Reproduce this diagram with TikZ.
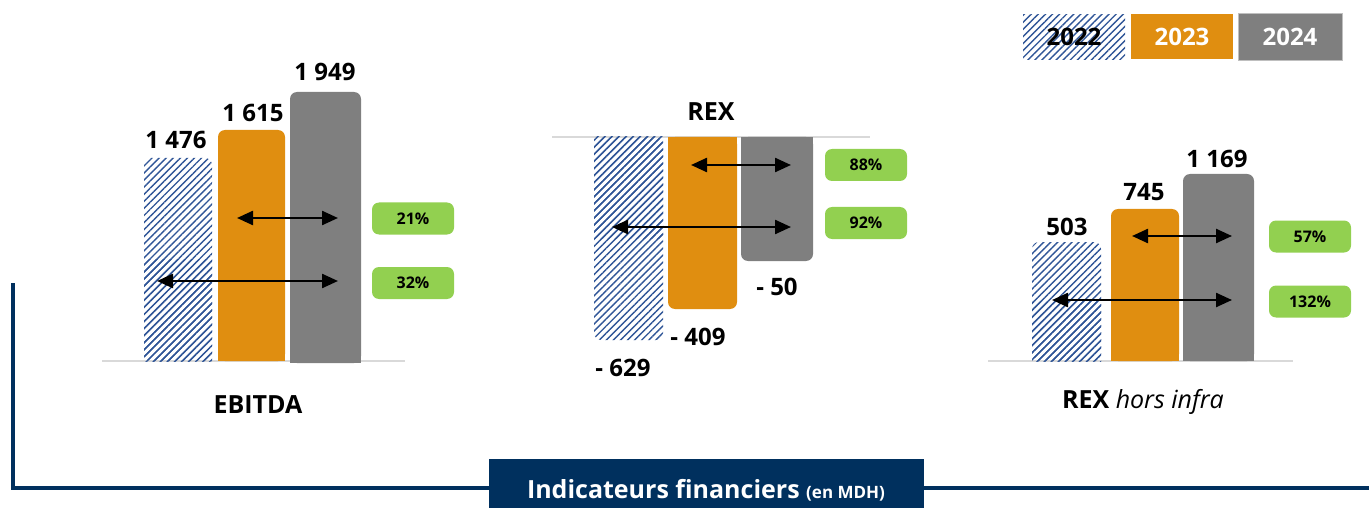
\documentclass[tikz,border=0pt]{standalone}
\usepackage{fontspec}
\setmainfont{Open Sans}
\usetikzlibrary{arrows.meta,patterns.meta}
\definecolor{navy}{RGB}{0,48,94}
\definecolor{orng}{RGB}{224,142,16}
\definecolor{gbar}{RGB}{127,127,127}
\definecolor{grn}{RGB}{146,208,80}
\definecolor{hatchc}{RGB}{47,85,151}
\definecolor{basec}{RGB}{217,217,217}
\newcommand\mybar[5]{%
  \path[#1,rounded corners=7pt] (#2,#4) rectangle (#3,#5);
  \path[#1] (#2,#4) rectangle (#3,{(#4+#5)/2});}
\tikzset{
  hbar/.style={pattern={Lines[angle=45,distance=5pt,line width=1.4pt]},pattern color=hatchc},
  obar/.style={fill=orng},
  gbarst/.style={fill=gbar},
  baseln/.style={draw=basec,line width=1.5pt},
  val/.style={font=\bfseries\fontsize{24}{26}\selectfont,inner sep=0pt},
  pct/.style={fill=grn,rounded corners=7pt,minimum width=82pt,minimum height=32pt,
     font=\fontsize{16}{18}\selectfont\bfseries,inner sep=0pt},
  dbl/.style={{Triangle[length=16pt,width=14pt]}-{Triangle[length=16pt,width=14pt]},line width=2.4pt,black},
  ttl/.style={font=\bfseries\fontsize{25}{28}\selectfont,inner sep=0pt},
  frame/.style={draw=navy,line width=4pt},
  leg/.style={minimum width=102pt,minimum height=45pt,inner sep=0pt,font=\bfseries\fontsize{24}{26}\selectfont}
}
\begin{document}
\begin{tikzpicture}[x=1pt,y=-1pt]
\useasboundingbox (0,0) rectangle (1369,508);
% frame
\coordinate (ft) at (13,283);
\coordinate (fc) at (13,488);
\coordinate (fr) at (1375,488);
\draw[frame] (ft) -- (fc) -- (fr);
\node[fill=navy,text=white,minimum width=435pt,minimum height=62pt,inner sep=0pt,anchor=north,
  font=\bfseries\fontsize{25}{28}\selectfont] (title) at (706,459)
  {Indicateurs financiers {\fontsize{17}{19}\selectfont(en MDH)}};
% legend
\node[leg,hbar,minimum width=102pt] (l22) at (1074,37) {2022};
\node[leg,obar,text=white] (l23) at (1182,37) {2023};
\node[leg,gbarst,draw={rgb,255:red,191;green,191;blue,191},line width=1pt,text=white,minimum width=104pt,minimum height=47pt] (l24) at (1290,37) {2024};
% ===== EBITDA =====
\coordinate (eb1) at (102,361);
\coordinate (eb2) at (405,361);
\draw[baseln] (eb1) -- (eb2);
\mybar{hbar}{144}{212}{361}{158}
\mybar{obar}{218}{285}{361}{130}
\mybar{gbarst}{290}{361}{363}{92}
\node[val] (v1476) at (176,140) {1~476};
\node[val] (v1615) at (253,113) {1~615};
\node[val] (v1949) at (325,72) {1~949};
\coordinate (ea1) at (237,218);
\coordinate (ea2) at (338,218);
\coordinate (ea3) at (157,281);
\coordinate (ea4) at (338,281);
\draw[dbl] (ea1) -- (ea2);
\draw[dbl] (ea3) -- (ea4);
\node[pct] (p21) at (413,218.5) {21\%};
\node[pct] (p32) at (413,283) {32\%};
\node[ttl] (tebitda) at (258,405) {EBITDA};
% ===== REX =====
\coordinate (rb1) at (552,137);
\coordinate (rb2) at (870,137);
\draw[baseln] (rb1) -- (rb2);
\mybar{hbar}{594}{663}{137}{340}
\mybar{obar}{668}{737}{137}{309}
\mybar{gbarst}{741}{813}{137}{261}
\node[ttl] (trex) at (711,112) {REX};
\node[val] (v50) at (777,287) {-~50};
\node[val] (v409) at (698,337) {-~409};
\node[val] (v629) at (623,368) {-~629};
\coordinate (ra1) at (691,165);
\coordinate (ra2) at (791,165);
\coordinate (ra3) at (612,227);
\coordinate (ra4) at (791,227);
\draw[dbl] (ra1) -- (ra2);
\draw[dbl] (ra3) -- (ra4);
\node[pct] (p88) at (866,165) {88\%};
\node[pct] (p92) at (866,223) {92\%};
% ===== REX hors infra =====
\coordinate (hb1) at (988,361);
\coordinate (hb2) at (1293,361);
\draw[baseln] (hb1) -- (hb2);
\mybar{hbar}{1032}{1101}{361}{242}
\mybar{obar}{1111}{1179}{361}{209}
\mybar{gbarst}{1183}{1254}{361}{174}
\node[val] (v503) at (1067,227) {503};
\node[val] (v745) at (1144,192) {745};
\node[val] (v1169) at (1217,159) {1~169};
\coordinate (ha1) at (1132,236);
\coordinate (ha2) at (1232,236);
\coordinate (ha3) at (1052,300);
\coordinate (ha4) at (1232,300);
\draw[dbl] (ha1) -- (ha2);
\draw[dbl] (ha3) -- (ha4);
\node[pct] (p57) at (1310,236.5) {57\%};
\node[pct] (p132) at (1310,301.5) {132\%};
\node[ttl] (threx) at (1143,402) {REX {\mdseries\itshape hors infra}};
\end{tikzpicture}
\end{document}
